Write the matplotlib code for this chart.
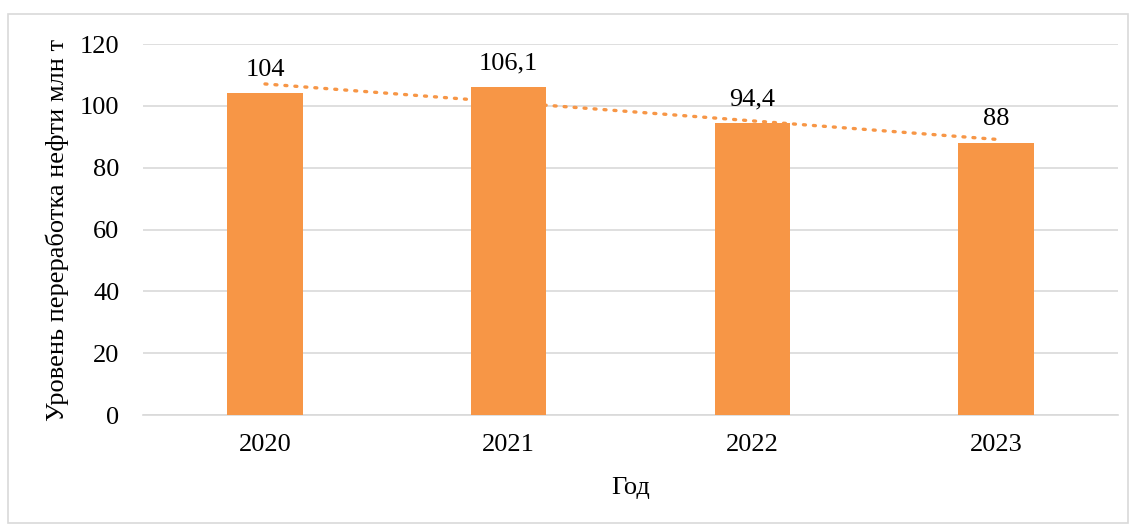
import numpy as np
import matplotlib.pyplot as plt
from matplotlib.patches import Rectangle

# Данные
years = ['2020', '2021', '2022', '2023']
values = [104, 106.1, 94.4, 88]
value_labels = ['104', '106,1', '94,4', '88']

bar_color = '#F79646'
grid_color = '#D9D9D9'

plt.rcParams['font.family'] = ['Liberation Serif', 'DejaVu Serif']

fig = plt.figure(figsize=(11.36, 5.27), dpi=100)
ax = fig.add_axes([0.126, 0.2125, 0.858, 0.704])

x = np.arange(len(years))
ax.bar(x, values, width=0.31, color=bar_color, zorder=3)

# Линейный тренд
k, b = np.polyfit(x, values, 1)
ax.plot(x, k * x + b, linestyle=(0, (0.6, 2.4)), color=bar_color, lw=2.4,
        dash_capstyle='round', zorder=4)

# Подписи значений
for xi, v, lab in zip(x, values, value_labels):
    ax.annotate(lab, (xi, v), xytext=(0, 9), textcoords='offset points',
                ha='center', va='bottom', fontsize=19)

ax.set_xlim(-0.5, len(years) - 0.5)
ax.set_ylim(0, 120)
ax.set_yticks(range(0, 121, 20))
ax.set_xticks(x)
ax.set_xticklabels(years)
ax.tick_params(axis='y', length=0, pad=17, labelsize=19)
ax.tick_params(axis='x', length=0, pad=14, labelsize=19)

ax.grid(axis='y', color=grid_color, lw=1.2, zorder=0)
for s in ['top', 'right', 'left']:
    ax.spines[s].set_visible(False)
ax.spines['bottom'].set_color(grid_color)
ax.spines['bottom'].set_linewidth(1.2)

ax.set_ylabel('Уровень переработка нефти млн т', fontsize=19, labelpad=8)
ax.set_xlabel('Год', fontsize=19, labelpad=15)

# Рамка вокруг диаграммы
fig.patches.append(Rectangle((0.007, 0.008), 0.986, 0.965, transform=fig.transFigure,
                             fill=False, edgecolor=grid_color, lw=1.2))

fig.savefig('out.png', dpi=100)
